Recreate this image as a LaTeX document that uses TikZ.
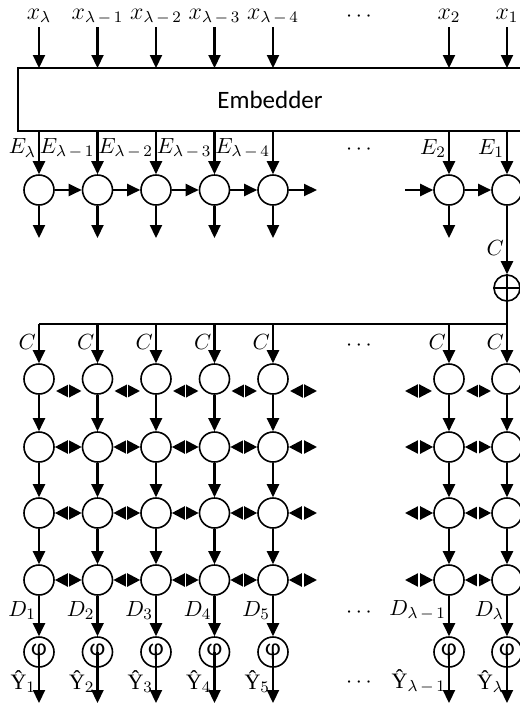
\documentclass[tikz,border=0pt]{standalone}
\usepackage{fontspec}
\newfontfamily\calibri{Carlito}
\newfontfamily\timesu{Liberation Serif}
\usetikzlibrary{arrows.meta, calc, decorations.markings}

\begin{document}
\begin{tikzpicture}[x=0.5pt, y=-0.5pt,
    cell/.style={draw, circle, line width=0.8pt, minimum size=15pt, inner sep=0pt},
    arr/.style={-{Triangle[length=6.5pt,width=6pt]}, line width=1.1pt},
    dbl/.style={{Triangle[length=6.5pt,width=6.5pt]}-{Triangle[length=6.5pt,width=6.5pt]}, line width=1.1pt,
      decoration={markings, mark=at position 0.5 with {\draw[-, white, line width=0.7pt] (0,-4pt) -- (0,4pt);}},
      postaction=decorate},
    lab/.style={inner sep=1pt, font=\fontsize{11}{13}\selectfont},
    tag/.style={inner sep=1pt, text height=7pt, text depth=3pt, font=\fontsize{11.5}{13}\selectfont}]
  \useasboundingbox (0,0) rectangle (520,703);
  \clip (0,0) rectangle (520,703);

  \node[draw, line width=0.9pt, minimum width=252pt, minimum height=31.5pt, outer sep=0pt,
        font=\calibri\fontsize{12.5}{15}\selectfont] (emb) at (270,99.5) {Embedder};

  % encoder columns
  \foreach \i/\x/\a in {1/39/\lambda, 2/97.5/{\lambda\,-\,1}, 3/156/{\lambda\,-\,2},
      4/214.5/{\lambda\,-\,3}, 5/273/{\lambda\,-\,4}, 6/449/2, 7/507/1} {
    \node[tag] (x\i) at (\x,15) {$x_{\a}$};
    \draw[arr] (x\i.south) -- (x\i |- emb.north);
    \node[cell] (e\i) at (\x,190) {};
    \draw[arr] (e\i |- emb.south) -- node[pos=0.4, left, lab] {$E_{\a}$} (e\i);
  }
  \foreach \i/\x in {1/39, 2/97.5, 3/156, 4/214.5, 5/273, 6/449} {
    \coordinate (o\i) at (\x,238);
    \draw[arr] (e\i) -- (o\i);
  }
  \foreach \i/\j in {1/2, 2/3, 3/4, 4/5, 6/7}
    \draw[arr] (e\i) -- (e\j);
  \draw[arr] (e5) -- ($(e5)+(44,0)$);
  \draw[arr] ($(e6)+(-44,0)$) -- (e6);

  % context
  \node[cell, minimum size=13pt] (sum) at (507,288) {};
  \draw[line width=0.8pt] (sum.north) -- (sum.south) (sum.west) -- (sum.east);
  \draw[arr] (e7) -- node[pos=0.62, left, lab] {$C$} (sum);
  \coordinate (busR) at (507,324);
  \coordinate (busL) at (39,324);
  \draw[line width=1.1pt] (sum) -- (busR) -- (busL);

  % decoder grid
  \foreach \i/\x/\c in {1/39/1, 2/97.5/2, 3/156/3, 4/214.5/4, 5/273/5,
      6/449/{\lambda\,-\,1}, 7/507/\lambda} {
    \foreach \r/\y in {1/379, 2/447, 3/513, 4/580}
      \node[cell] (g\r-\i) at (\x,\y) {};
    \draw[arr] (g1-\i |- busL) -- node[pos=0.47, left, lab] {$C$} (g1-\i);
    \foreach \r/\s in {1/2, 2/3, 3/4}
      \draw[arr] (g\r-\i) -- (g\s-\i);
    \node[cell, font=\calibri\fontsize{12}{14}\selectfont] (phi\i) at (\x,652) {φ};
    \draw[arr] (g4-\i) -- node[pos=0.36, left, lab] {$D_{\c}$} (phi\i);
    \coordinate (y\i) at (\x,703);
    \draw[arr] (phi\i.center) -- node[pos=0.58, left, lab] {{\timesu Ŷ}$_{\c}$} (y\i);
  }
  \foreach \i/\j in {1/2, 2/3, 3/4, 4/5, 6/7} {
    \draw[dbl] ($(g1-\i)+(17,12)$) -- ($(g1-\j)+(-16,12)$);
    \foreach \r in {2,3,4}
      \draw[dbl] (g\r-\i) -- (g\r-\j);
  }
  \draw[dbl] ($(g1-5)+(17,12)$) -- ($(g1-5)+(44,12)$);
  \draw[dbl] ($(g1-6)+(-44,12)$) -- ($(g1-6)+(-17,12)$);
  \foreach \r in {2,3,4} {
    \draw[dbl] (g\r-5) -- ($(g\r-5)+(44,0)$);
    \draw[dbl] ($(g\r-6)+(-44,0)$) -- (g\r-6);
  }

  % gaps
  \node[lab] (dx) at (359,17) {$\cdots$};
  \node[lab] (de) at (359,150) {$\cdots$};
  \node[lab] (dc) at (359,346) {$\cdots$};
  \node[lab] (dd) at (359,613) {$\cdots$};
  \node[lab] (dy) at (359,683) {$\cdots$};
\end{tikzpicture}
\end{document}
